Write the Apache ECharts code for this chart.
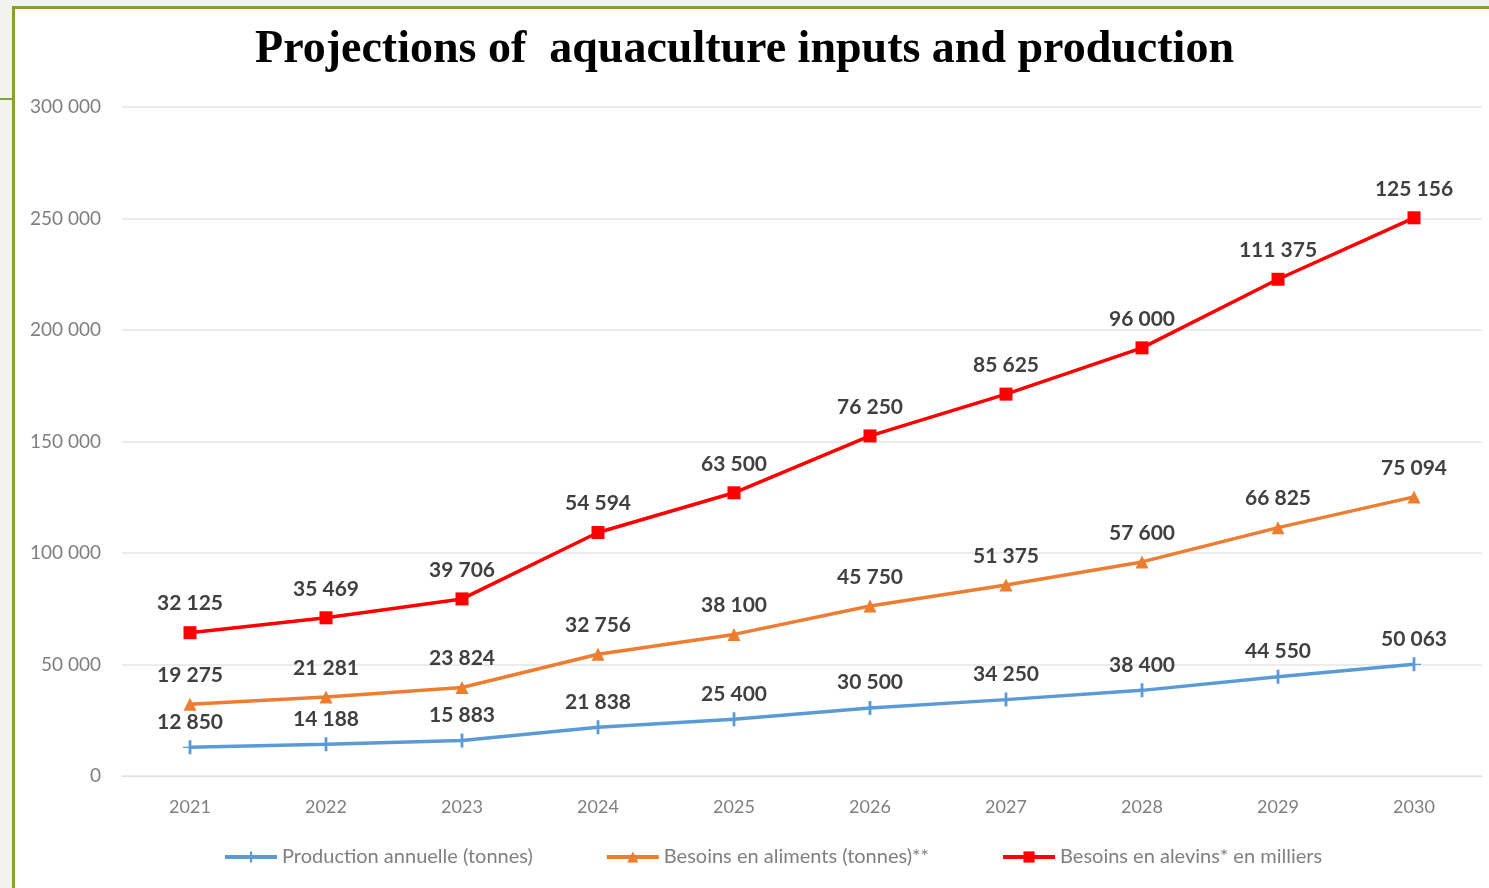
<!DOCTYPE html>
<html>
<head>
<meta charset="utf-8">
<script src="https://cdn.jsdelivr.net/npm/echarts@6/dist/echarts.min.js"></script>
<style>
html,body{margin:0;padding:0;width:1489px;height:888px;overflow:hidden;background:#f2f2f0;}
#frame{position:absolute;left:12px;top:6px;width:1477px;height:882px;background:#fff;border-left:3px solid #86a035;border-top:3px solid #86a035;box-sizing:border-box;}
#tick{position:absolute;left:0;top:98px;width:14px;height:2px;background:#86a035;}
#chart{position:absolute;left:0;top:0;width:1489px;height:888px;}
</style>
</head>
<body>
<div id="frame"></div>
<div id="tick"></div>
<div id="chart"></div>
<script>
const titleText = 'Projections of  aquaculture inputs and production';
const categories = ['2021','2022','2023','2024','2025','2026','2027','2028','2029','2030'];
const seriesNames = ['Production annuelle (tonnes)','Besoins en aliments (tonnes)**','Besoins en alevins* en milliers'];
const production = [12850,14188,15883,21838,25400,30500,34250,38400,44550,50063];
const aliments = [19275,21281,23824,32756,38100,45750,51375,57600,66825,75094];
const alevins = [32125,35469,39706,54594,63500,76250,85625,96000,111375,125156];
const yTicks = {min:0, max:300000, interval:50000};
const colors = ['#5b9bd5','#ed7d31','#ff0000'];

function fmt(v){ return String(v).replace(/\B(?=(\d{3})+(?!\d))/g,' '); }

const chart = echarts.init(document.getElementById('chart'));
const font = 'Lato, "Open Sans", sans-serif';
function mk(name, data, color, symbol, size, dist){
  return {
    name, type:'line', stack:'total', data,
    symbol, symbolSize:size,
    lineStyle:{color, width:3.5},
    itemStyle:{color},
    label:{show:true, position:'top', distance:dist, formatter:p=>fmt(p.value),
      color:'#404040', fontSize:21, fontWeight:'bold', fontFamily:font},
    emphasis:{disabled:true}
  };
}
chart.setOption({
  animation:false,
  backgroundColor:'transparent',
  color:colors,
  title:{text:titleText, left:'center', top:22, textStyle:{fontFamily:'"Liberation Serif", serif', fontWeight:'bold', fontSize:46, color:'#000'}},
  grid:{left:122, right:7, top:107, bottom:112},
  legend:{bottom:16, left:218, itemWidth:52, itemHeight:14, itemGap:72,
    lineStyle:{width:4},
    textStyle:{color:'#7f7f7f', fontSize:20, fontFamily:font}},
  xAxis:{type:'category', data:categories, boundaryGap:true,
    axisLine:{show:true, lineStyle:{color:'#e0e0e0'}}, axisTick:{show:false},
    axisLabel:{color:'#7f7f7f', fontSize:18, fontFamily:font, margin:22}},
  yAxis:{type:'value', min:yTicks.min, max:yTicks.max, interval:yTicks.interval,
    axisLine:{show:false}, axisTick:{show:false},
    splitLine:{lineStyle:{color:'#e6e6e6', width:1.5}},
    axisLabel:{color:'#7f7f7f', fontSize:19, fontFamily:font, margin:21, formatter:v=>fmt(v)}},
  series:[
    mk(seriesNames[0], production, colors[0], 'path://M0,0 L0.4,0 L0.4,-1 L0.6,-1 L0.6,0 L1,0 L1,0.2 L0.6,0.2 L0.6,1.2 L0.4,1.2 L0.4,0.2 L0,0.2 Z', 14, 8),
    mk(seriesNames[1], aliments, colors[1], 'triangle', 13, 12),
    mk(seriesNames[2], alevins, colors[2], 'rect', 13, 12)
  ]
});
</script>
</body>
</html>
